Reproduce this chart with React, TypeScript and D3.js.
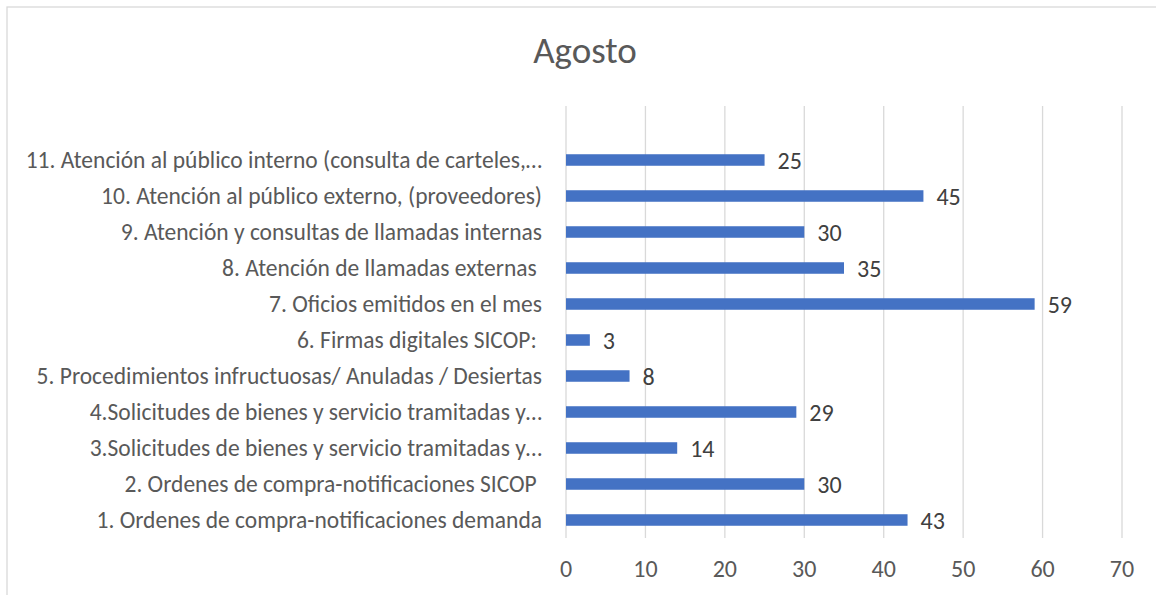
import React from "react";
import * as d3 from "d3";

const categories: string[] = [
  "1. Ordenes de compra-notificaciones demanda",
  "2. Ordenes de compra-notificaciones SICOP ",
  "3.Solicitudes de bienes y servicio tramitadas y…",
  "4.Solicitudes de bienes y servicio tramitadas y…",
  "5. Procedimientos infructuosas/ Anuladas / Desiertas",
  "6. Firmas digitales SICOP: ",
  "7. Oficios emitidos en el mes",
  "8. Atención de llamadas externas ",
  "9. Atención y consultas de llamadas internas",
  "10. Atención al público externo, (proveedores)",
  "11. Atención al público interno (consulta de carteles,…",
];
const values: number[] = [43, 30, 14, 29, 8, 3, 59, 35, 30, 45, 25];
const xTicks: number[] = [0, 10, 20, 30, 40, 50, 60, 70];
const title = "Agosto";

const W = 1156;
const H = 595;
const FONT = "Carlito, Calibri, Lato, sans-serif";

export default function App() {
  const x = d3.scaleLinear().domain([0, 70]).range([566, 1122]);
  // an empty slot sits above the last category, as in the source chart
  const domain = ["__blank__", ...categories.slice().reverse()];
  const y = d3
    .scaleBand<string>()
    .domain(domain)
    .range([106, 538])
    .paddingInner(0.68)
    .paddingOuter(0.34);
  const top = 106;
  const bottom = 538;

  return (
    <svg
      width={W}
      height={H}
      style={{ position: "absolute", left: 0, top: 0, background: "#fff" }}
      fontFamily={FONT}
    >
      <rect x={7} y={7} width={W + 20} height={H + 20} fill="#fff" stroke="#d9d9d9" strokeWidth={1.3} />
      <text x={585} y={63} textAnchor="middle" fontSize={37} fill="#595959">
        {title}
      </text>
      {xTicks.map((t) => (
        <g key={t}>
          <line x1={x(t)} x2={x(t)} y1={top} y2={bottom} stroke="#d9d9d9" strokeWidth={1.3} />
          <text x={x(t)} y={577} textAnchor="middle" fontSize={24} fill="#595959">
            {t}
          </text>
        </g>
      ))}
      {categories.map((c, i) => {
        const yc = (y(c) as number) + y.bandwidth() / 2;
        return (
          <g key={c}>
            <rect x={x(0)} y={y(c)} width={x(values[i]) - x(0)} height={y.bandwidth()} fill="#4472C4" />
            <text
              x={542}
              y={yc}
              dy="0.35em"
              textAnchor="end"
              fontSize={23.5}
              fill="#595959"
              style={{ whiteSpace: "pre" }}
            >
              {c}
            </text>
            <text x={x(values[i]) + 13} y={yc} dy="0.38em" fontSize={24} fill="#404040">
              {values[i]}
            </text>
          </g>
        );
      })}
    </svg>
  );
}
